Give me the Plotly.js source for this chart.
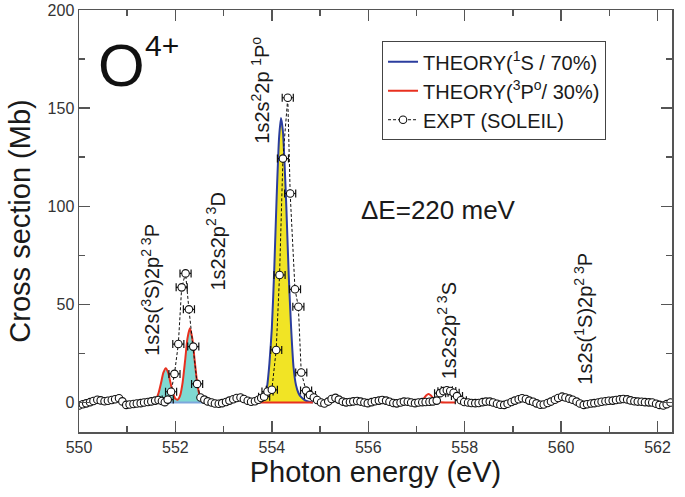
<!DOCTYPE html>
<html>
<head>
<meta charset="utf-8">
<script src="https://cdn.plot.ly/plotly-3.0.1.min.js"></script>
<style>html,body{margin:0;padding:0;background:#fff;}#chart{width:685px;height:497px;}</style>
</head>
<body>
<div id="chart"></div>
<script>
// ---------- Experimental data (SOLEIL) ----------
var exptBaseA_E = [550.00,550.08,550.15,550.23,550.30,550.38,550.45,550.53,550.60,550.68,550.75,550.83,550.90,550.98,551.05,551.13,551.20,551.28,551.35,551.43,551.50,551.58,551.65,551.72,551.78];
var exptBaseA_Y = [-1.5,-0.9,-0.4,0.2,0.8,1.4,1.1,0.7,0.9,1.3,1.7,2.2,0.6,-1.2,-1.0,-0.7,-0.5,-0.3,0.0,0.3,0.6,1.0,1.3,0.8,0.2];

var exptPeak1_E = [551.84,551.91,551.98,552.06,552.13,552.21,552.28,552.37,552.45];
var exptPeak1_Y = [1.5,5.5,14.6,29.8,58.7,65.8,47.5,28.5,9.5];

var exptBaseB_E = [552.52,552.60,552.67,552.75,552.82,552.90,552.97,553.05,553.12,553.20,553.27,553.35,553.42,553.50,553.57,553.65,553.72,553.78];
var exptBaseB_Y = [2.6,1.5,0.6,0.0,-0.5,-0.6,-0.3,0.3,1.0,1.7,2.3,2.6,1.8,0.9,0.4,0.7,1.4,2.3];

var exptPeak2_E = [553.84,553.91,554.00,554.09,554.16,554.23,554.33,554.38,554.48,554.55,554.61,554.71,554.79];
var exptPeak2_Y = [3.0,5.6,6.5,26.8,65.0,124.3,155.3,106.5,57.7,48.8,15.3,6.1,3.9];

var exptBaseC_E = [554.87,554.94,555.02,555.09,555.17,555.24,555.32,555.39,555.47,555.54,555.62,555.69,555.77,555.84,555.92,555.99,556.07,556.14,556.22,556.29,556.37,556.44,556.52,556.59,556.67,556.74,556.82,556.89,556.97,557.04,557.12,557.19,557.27,557.34,557.42];
var exptBaseC_Y = [2.6,1.3,0.0,-0.5,0.5,1.8,2.4,1.5,0.5,0.1,0.3,0.6,0.8,0.5,0.0,-0.3,0.2,0.7,1.0,1.3,1.0,0.4,-0.2,-0.4,0.0,0.5,0.4,0.0,-0.3,0.0,0.2,0.3,0.4,0.6,1.0];

var exptPeak3_E = [557.49,557.56,557.63,557.70,557.77,557.84,557.92];
var exptPeak3_Y = [4.8,5.8,6.3,5.9,5.0,3.3,1.2];

var exptBaseD_E = [557.99,558.07,558.14,558.22,558.29,558.37,558.44,558.52,558.59,558.67,558.74,558.82,558.89,558.97,559.04,559.12,559.19,559.27,559.34,559.42,559.49,559.57,559.64,559.72,559.79,559.87,559.94,560.02,560.09,560.17,560.24,560.32,560.39,560.47,560.54,560.62,560.69,560.77,560.84,560.92,560.99,561.07,561.14,561.22,561.29,561.37,561.44,561.52,561.59,561.67,561.74,561.82,561.89,561.97,562.04,562.12,562.19,562.27];
var exptBaseD_Y = [0.3,0.0,-0.2,-0.3,-0.2,0.2,0.5,0.5,0.0,-0.6,-1.1,-1.2,-0.6,0.3,1.0,1.7,2.2,1.8,1.0,0.4,-0.4,-1.1,-1.0,-0.2,0.5,1.4,2.3,3.0,2.6,2.0,1.4,0.5,-0.5,-1.2,-0.9,-0.5,-0.3,0.0,0.4,0.7,0.9,1.0,1.3,1.6,1.8,1.6,1.1,0.7,0.5,0.4,0.2,0.1,0.0,-0.6,-1.2,-1.5,-0.8,0.0];

var exptErrX = 0.115; // horizontal error bar half-width (eV)

// ---------- Theory ----------
var theory3P_E = [551.45,551.50,551.55,551.60,551.65,551.70,551.75,551.80,551.85,551.90,551.95,552.00,552.05,552.10,552.15,552.20,552.25,552.30,552.35,552.40,552.45,552.50,552.55,552.60,552.65];
var theory3P_Y = [0,0.1,0.5,1.7,4.8,9.8,15.2,17.5,15.2,9.8,4.8,1.9,1.5,3.8,10.3,21.2,32.7,37.8,32.7,21.2,10.3,3.7,1.0,0.2,0];
var theory3P_mainE = [553.75,554.85];
var theory3P_mainY = [0,0];
var theory3P_557E = [557.00,557.10,557.15,557.20,557.25,557.30,557.35,557.40,557.50,557.60,557.80];
var theory3P_557Y = [0,0.8,2.0,3.6,4.4,3.6,2.0,0.8,0.1,0,0];
var theory3P_560E = [559.85,559.95,560.00,560.05,560.10,560.15,560.25];
var theory3P_560Y = [0,0.8,1.5,1.8,1.5,0.8,0];

var theory1S_E = [553.70,553.75,553.80,553.85,553.90,553.95,554.00,554.05,554.10,554.15,554.19,554.23,554.27,554.30,554.35,554.40,554.45,554.50,554.55,554.60,554.70,554.85];
var theory1S_Y = [0,0.3,1,3,8,20,38,68,105,135,145,138,118,100,65,38,18,9,5,3,1,0];
var theory1S_lowE = [551.55,552.65];
var theory1S_lowY = [0,0];

// ---------- Labels ----------
var stateLabels = ['1s2s(<sup>3</sup>S)2p<sup>2 3</sup>P','1s2s2p<sup>2 3</sup>D','1s2s<sup>2</sup>2p <sup>1</sup>P<sup>o</sup>','1s2s2p<sup>2 3</sup>S','1s2s(<sup>1</sup>S)2p<sup>2 3</sup>P'];
var stateLabelE = [551.48,552.84,553.77,557.63,560.47];
var stateLabelY = [23,56,131,11,8];

var legendNames = ['THEORY(<sup>1</sup>S / 70%)','THEORY(<sup>3</sup>P<sup>o</sup>/ 30%)','EXPT (SOLEIL)'];

var FONT = 'Liberation Sans, Arial, Helvetica, sans-serif';
var BLUE = '#2b3d9e', RED = '#e8301f', YELLOW = '#f1e425', CYAN = '#7fd9d2';

// combine experimental arrays
var exptE = [].concat(exptBaseA_E, exptPeak1_E, exptBaseB_E, exptPeak2_E, exptBaseC_E, exptPeak3_E, exptBaseD_E);
var exptY = [].concat(exptBaseA_Y, exptPeak1_Y, exptBaseB_Y, exptPeak2_Y, exptBaseC_Y, exptPeak3_Y, exptBaseD_Y);
var errE = [].concat(exptPeak1_E, exptPeak2_E, exptPeak3_E);
var errY = [].concat(exptPeak1_Y, exptPeak2_Y, exptPeak3_Y);

var traces = [
  {x: theory3P_E, y: theory3P_Y, type:'scatter', mode:'lines', fill:'tozeroy', fillcolor:CYAN, line:{width:0, shape:'spline', smoothing:0.6}, showlegend:false, hoverinfo:'skip'},
  {x: theory1S_lowE, y: theory1S_lowY, type:'scatter', mode:'lines', line:{color:'#7ea7dc', width:2}, showlegend:false},
  {x: theory3P_E, y: theory3P_Y, type:'scatter', mode:'lines', line:{color:RED, width:2, shape:'spline', smoothing:0.6}, showlegend:false},
  {x: theory1S_E, y: theory1S_Y, type:'scatter', mode:'lines', fill:'tozeroy', fillcolor:YELLOW, line:{width:0, shape:'spline', smoothing:0.6}, showlegend:false, hoverinfo:'skip'},
  {x: theory1S_E, y: theory1S_Y, type:'scatter', mode:'lines', name:legendNames[0], legendgroup:'a', line:{color:BLUE, width:2, shape:'spline', smoothing:0.6}},
  {x: theory3P_mainE, y: theory3P_mainY, type:'scatter', mode:'lines', name:legendNames[1], legendgroup:'b', line:{color:RED, width:2}},
  {x: theory3P_557E, y: theory3P_557Y, type:'scatter', mode:'lines', line:{color:RED, width:2, shape:'spline', smoothing:0.6}, showlegend:false},
  {x: theory3P_560E, y: theory3P_560Y, type:'scatter', mode:'lines', line:{color:RED, width:2, shape:'spline', smoothing:0.6}, showlegend:false},
  {x: errE, y: errY, type:'scatter', mode:'markers', marker:{size:0.1, color:'rgba(0,0,0,0)'}, showlegend:false,
   error_x:{type:'constant', value:exptErrX, color:'#111', thickness:1.2, width:4}},
  {x: exptE, y: exptY, type:'scatter', mode:'lines+markers', name:legendNames[2], legendgroup:'c',
   line:{color:'#111', width:1, dash:'3px,2px'},
   marker:{symbol:'circle', size:7.5, color:'#fff', line:{color:'#111', width:1.1}}}
];

var annotations = [];
for (var i = 0; i < stateLabels.length; i++) {
  annotations.push({x: stateLabelE[i], y: stateLabelY[i], xref:'x', yref:'y', text: stateLabels[i], showarrow:false,
    textangle:-90, xanchor:'center', yanchor:'bottom', font:{family:FONT, size:20, color:'#1a1a1a'}});
}
annotations.push({x:555.8, y:98, xref:'x', yref:'y', text:'\u0394E=220 meV', showarrow:false, xanchor:'left', yanchor:'middle', font:{family:FONT, size:26, color:'#1a1a1a'}});
annotations.push({x:0.0725, y:0.868, xref:'paper', yref:'paper', text:'O', showarrow:false, xanchor:'center', yanchor:'middle', font:{family:FONT, size:60, color:'#111'}});
annotations.push({x:0.14, y:0.915, xref:'paper', yref:'paper', text:'4+', showarrow:false, xanchor:'center', yanchor:'middle', font:{family:FONT, size:30, color:'#111'}});

var axisCommon = {
  showgrid:false, zeroline:false, showline:true, linecolor:'#555', linewidth:1.5, mirror:'ticks',
  ticks:'inside', ticklen:11, tickwidth:1.5, tickcolor:'#555',
  tickfont:{family:FONT, size:16, color:'#333'}
};

var layout = {
  width:685, height:497,
  margin:{l:79, r:13, t:10, b:65},
  paper_bgcolor:'#fff', plot_bgcolor:'#fff',
  font:{family:FONT, color:'#1a1a1a'},
  xaxis: Object.assign({}, axisCommon, {range:[550,562.3], tick0:550, dtick:2,
    minor:{dtick:1, ticks:'inside', ticklen:6, tickwidth:1.5, tickcolor:'#555'},
    title:{text:'Photon energy (eV)', font:{family:FONT, size:29, color:'#1a1a1a'}, standoff:6}}),
  yaxis: Object.assign({}, axisCommon, {range:[-15,200], tick0:0, dtick:50,
    minor:{dtick:25, ticks:'inside', ticklen:6, tickwidth:1.5, tickcolor:'#555'},
    title:{text:'Cross section (Mb)', font:{family:FONT, size:29, color:'#1a1a1a'}, standoff:8}}),
  legend:{x:0.511, y:0.926, xanchor:'left', yanchor:'top', bgcolor:'#fff', bordercolor:'#444', borderwidth:1,
    font:{family:FONT, size:20, color:'#1a1a1a'}, traceorder:'grouped', tracegroupgap:0, itemwidth:30},
  annotations: annotations,
  showlegend:true
};

Plotly.newPlot('chart', traces, layout, {displayModeBar:false, staticPlot:true});
</script>
</body>
</html>
